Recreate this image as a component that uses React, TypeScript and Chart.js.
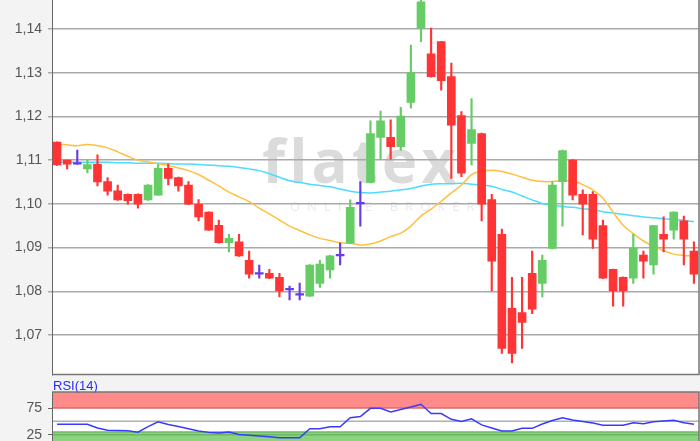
import React, { useEffect, useRef } from 'react';
import { Chart, registerables } from 'chart.js';

Chart.register(...registerables);

// ---- price data (OHLC) ----
const open = [
  1.1141, 1.1100, 1.1091, 1.1080, 1.1091, 1.1051, 1.1030, 1.1022, 1.1022, 1.1009,
  1.1020, 1.1081, 1.1060, 1.1043, 1.0999, 1.0981, 1.0951, 1.0911, 1.0913, 1.0871,
  1.0839, 1.0841, 1.0832, 1.0803, 1.0791, 1.0789, 1.0818, 1.0849, 1.0881, 1.0910,
  1.1000, 1.1049, 1.1152, 1.1152, 1.1131, 1.1232, 1.1402, 1.1343, 1.1371, 1.1291,
  1.1202, 1.1138, 1.1161, 1.1010, 1.0930, 1.0761, 1.0751, 1.0841, 1.0818, 1.0898,
  1.1051, 1.1100, 1.1022, 1.1022, 1.0950, 1.0850, 1.0832, 1.0830, 1.0883, 1.0860,
  1.0930, 1.0940, 1.0961, 1.0892,
];
const high = [
  1.1142, 1.1100, 1.1123, 1.1100, 1.1112, 1.1060, 1.1043, 1.1023, 1.1023, 1.1044,
  1.1091, 1.1091, 1.1061, 1.1051, 1.1010, 1.0982, 1.0963, 1.0930, 1.0930, 1.0892,
  1.0860, 1.0850, 1.0841, 1.0812, 1.0819, 1.0861, 1.0871, 1.0882, 1.0910, 1.1009,
  1.1051, 1.1190, 1.1212, 1.1192, 1.1221, 1.1363, 1.1490, 1.1402, 1.1372, 1.1322,
  1.1211, 1.1241, 1.1162, 1.1022, 1.0942, 1.0832, 1.0832, 1.0892, 1.0883, 1.1051,
  1.1123, 1.1101, 1.1032, 1.1028, 1.0963, 1.0851, 1.0833, 1.0930, 1.0892, 1.0951,
  1.0970, 1.0982, 1.0972, 1.0913,
];
const low = [
  1.1088, 1.1080, 1.1090, 1.1071, 1.1041, 1.1020, 1.1008, 1.0999, 1.0990, 1.1008,
  1.1019, 1.1043, 1.1029, 1.0998, 1.0961, 1.0939, 1.0910, 1.0890, 1.0880, 1.0830,
  1.0830, 1.0829, 1.0787, 1.0780, 1.0780, 1.0788, 1.0809, 1.0830, 1.0860, 1.0909,
  1.0949, 1.1048, 1.1102, 1.1102, 1.1122, 1.1219, 1.1371, 1.1290, 1.1260, 1.1058,
  1.1062, 1.1089, 1.0961, 1.0801, 1.0658, 1.0636, 1.0669, 1.0749, 1.0787, 1.0897,
  1.0949, 1.1009, 1.0929, 1.0898, 1.0829, 1.0766, 1.0766, 1.0818, 1.0830, 1.0839,
  1.0890, 1.0919, 1.0860, 1.0818,
];
const close = [
  1.1089, 1.1091, 1.1091, 1.1090, 1.1050, 1.1029, 1.1009, 1.1007, 1.0999, 1.1043,
  1.1081, 1.1058, 1.1041, 1.0999, 1.0970, 1.0940, 1.0911, 1.0921, 1.0881, 1.0839,
  1.0839, 1.0830, 1.0801, 1.0803, 1.0791, 1.0860, 1.0862, 1.0881, 1.0881, 1.0992,
  1.1000, 1.1161, 1.1190, 1.1131, 1.1201, 1.1300, 1.1462, 1.1291, 1.1282, 1.1180,
  1.1070, 1.1170, 1.0999, 1.0869, 1.0669, 1.0658, 1.0729, 1.0759, 1.0871, 1.1043,
  1.1122, 1.1020, 1.0999, 1.0919, 1.0830, 1.0801, 1.0801, 1.0898, 1.0869, 1.0950,
  1.0919, 1.0981, 1.0919, 1.0839,
];

// ---- moving averages ----
const maFast = [
  1.1137, 1.1135, 1.1133, 1.1136, 1.1133, 1.1128, 1.1119, 1.1109, 1.1100, 1.1096,
  1.1092, 1.1088, 1.1082, 1.1076, 1.1067, 1.1054, 1.1041, 1.1027, 1.1016, 1.1005,
  1.0990, 1.0977, 1.0963, 1.0949, 1.0939, 1.0929, 1.0921, 1.0916, 1.0911, 1.0910,
  1.0906, 1.0908, 1.0915, 1.0925, 1.0933, 1.0949, 1.0972, 1.0988, 1.1006, 1.1025,
  1.1043, 1.1067, 1.1075, 1.1077, 1.1074, 1.1068, 1.1061, 1.1054, 1.1051, 1.1051,
  1.1053, 1.1052, 1.1044, 1.1032, 1.1013, 1.0981, 1.0951, 1.0932, 1.0915, 1.0903,
  1.0893, 1.0885, 1.0882, 1.0881,
];
const maSlow = [
  1.1095, 1.1095, 1.1095, 1.1095, 1.1095, 1.1095, 1.1094, 1.1094, 1.1093, 1.1093,
  1.1093, 1.1092, 1.1091, 1.1091, 1.1090, 1.1089, 1.1087, 1.1086, 1.1083, 1.1080,
  1.1076, 1.1069, 1.1061, 1.1053, 1.1049, 1.1045, 1.1042, 1.1039, 1.1034, 1.1029,
  1.1026, 1.1025, 1.1027, 1.1029, 1.1032, 1.1035, 1.1041, 1.1045, 1.1046, 1.1046,
  1.1047, 1.1045, 1.1043, 1.1040, 1.1033, 1.1027, 1.1018, 1.1009, 1.1001, 1.0997,
  1.0994, 1.0992, 1.0989, 1.0986, 1.0982, 1.0979, 1.0976, 1.0973, 1.0970, 1.0968,
  1.0966, 1.0964, 1.0962, 1.0959,
];

// ---- RSI(14) ----
const rsi = [
  44.4, 44.4, 44.4, 44.4, 37.4, 33.1, 32.7, 32.3, 29.5, 40.2,
  49.2, 44.0, 40.2, 36.1, 31.8, 29.3, 28.0, 29.9, 25.2, 23.7,
  22.4, 20.9, 19.2, 19.2, 19.2, 36.1, 36.1, 39.8, 39.8, 56.8,
  59.0, 74.4, 74.4, 67.5, 72.2, 76.9, 82.0, 64.7, 64.7, 53.8,
  49.6, 54.7, 43.4, 37.4, 31.8, 31.8, 36.8, 36.8, 44.9, 51.5,
  56.8, 52.4, 49.6, 46.8, 42.7, 42.5, 42.5, 47.4, 45.3, 49.2,
  50.6, 51.9, 47.4, 44.5,
];

// ---- axes ----
const priceTicks = [1.07, 1.08, 1.09, 1.10, 1.11, 1.12, 1.13, 1.14];
const priceMin = 1.06096;
const priceMax = 1.14663;
const rsiTicks = [25, 75];
const rsiMin = 0;
const rsiMax = 105;
const rsiOverbought = 75;
const rsiOversold = 30;
const rsiMid = 50;
const rsiLowLine = 25;

const labels = open.map((_, i) => String(i + 1));

const UP = '#66cc66';
const DOWN = '#ff3535';
const DOJI = '#6a3ce8';
const candleColor = (i: number) =>
  close[i] > open[i] ? UP : close[i] < open[i] ? DOWN : DOJI;

const FONT = 'Liberation Sans';

export default function App() {
  const mainRef = useRef<HTMLCanvasElement>(null);
  const rsiRef = useRef<HTMLCanvasElement>(null);

  useEffect(() => {
    const bgPlugin = {
      id: 'mainBg',
      beforeDraw(chart: any) {
        const { ctx, chartArea: a } = chart;
        ctx.save();
        ctx.fillStyle = '#ffffff';
        ctx.fillRect(a.left, a.top, a.right - a.left, a.bottom - a.top);
        // watermark
        ctx.fillStyle = 'rgba(0,0,0,0.14)';
        ctx.font = `bold 60px "Open Sans"`;
        (ctx as any).letterSpacing = '4px';
        ctx.textBaseline = 'alphabetic';
        ctx.textAlign = 'left';
        ctx.fillText('flatex', 262, 183);
        ctx.font = `13px "Open Sans"`;
        (ctx as any).letterSpacing = '7px';
        ctx.fillStyle = 'rgba(0,0,0,0.09)';
        ctx.fillText('ONLINE BROKER', 290, 211);
        (ctx as any).letterSpacing = '0px';
        ctx.restore();
      },
      afterDraw(chart: any) {
        const { ctx, chartArea: a } = chart;
        ctx.save();
        ctx.strokeStyle = '#777777';
        ctx.lineWidth = 1.5;
        ctx.beginPath();
        ctx.moveTo(a.left, a.bottom);
        ctx.lineTo(a.right, a.bottom);
        ctx.lineTo(a.right, a.top);
        ctx.stroke();
        ctx.restore();
      },
    };

    const yAfterFit = (s: any) => {
      s.width = 52;
      s.paddingTop = 0;
      s.paddingBottom = 0;
    };

    const main = new Chart(mainRef.current!, {
      type: 'bar',
      data: {
        labels,
        datasets: [
          {
            type: 'bar',
            label: 'body',
            data: open.map((o, i) => [o, close[i]]) as any,
            backgroundColor: (c: any) => candleColor(c.dataIndex),
            barThickness: 8,
            minBarLength: 1.6,
            grouped: false,
            order: 0,
          } as any,
          {
            type: 'bar',
            label: 'wick',
            data: low.map((l, i) => [l, high[i]]) as any,
            backgroundColor: (c: any) => candleColor(c.dataIndex),
            barThickness: 1.5,
            grouped: false,
            order: 1,
          } as any,
          {
            type: 'line',
            label: 'MA fast',
            data: maFast,
            borderColor: '#ffc040',
            borderWidth: 1.5,
            pointRadius: 0,
            tension: 0.35,
            order: 2,
          } as any,
          {
            type: 'line',
            label: 'MA slow',
            data: maSlow,
            borderColor: '#4cdcff',
            borderWidth: 1.5,
            pointRadius: 0,
            tension: 0.35,
            order: 3,
          } as any,
        ],
      },
      options: {
        animation: false,
        responsive: false,
        maintainAspectRatio: false,
        layout: { padding: { top: 0, right: 1, bottom: 1.5, left: 0 } },
        plugins: { legend: { display: false }, tooltip: { enabled: false } },
        scales: {
          x: { type: 'category', offset: true, display: false },
          y: {
            type: 'linear',
            position: 'left',
            min: priceMin,
            max: priceMax,
            afterBuildTicks: (s: any) => {
              s.ticks = priceTicks.map((v) => ({ value: v }));
            },
            afterFit: yAfterFit,
            ticks: {
              callback: (v: any) => Number(v).toFixed(2).replace('.', ','),
              color: '#555555',
              font: { family: FONT, size: 14 },
              padding: 6,
            },
            grid: { color: '#aaaaaa', lineWidth: 1.5, tickLength: 4 },
            border: { display: true, color: '#666666', width: 1 },
          },
        },
      } as any,
      plugins: [bgPlugin],
    });

    const rsiPlugin = {
      id: 'rsiBg',
      beforeDraw(chart: any) {
        const { ctx, chartArea: a } = chart;
        const y = chart.scales.y;
        const w = a.right - a.left;
        ctx.save();
        ctx.fillStyle = '#ffffff';
        ctx.fillRect(a.left, a.top, w, a.bottom - a.top);
        const yTop = y.getPixelForValue(rsiMax);
        const yOb = y.getPixelForValue(rsiOverbought);
        ctx.fillStyle = '#ff8a8a';
        ctx.fillRect(a.left, yTop, w, yOb - yTop);
        const yOs = y.getPixelForValue(rsiOversold);
        const yBot = y.getPixelForValue(rsiMin);
        ctx.fillStyle = '#8ad47f';
        ctx.fillRect(a.left, yOs, w, yBot - yOs);
        const hline = (v: number, color: string, lw: number) => {
          const p = y.getPixelForValue(v);
          ctx.strokeStyle = color;
          ctx.lineWidth = lw;
          ctx.beginPath();
          ctx.moveTo(a.left, p);
          ctx.lineTo(a.right, p);
          ctx.stroke();
        };
        hline(rsiOverbought, '#d86a6a', 1.5);
        hline(rsiMid, '#b0b0b0', 1.5);
        hline(rsiOversold, '#6cb862', 1.5);
        hline(rsiLowLine, '#6cb862', 1.5);
        ctx.fillStyle = '#2a2aff';
        ctx.font = `13px "${FONT}"`;
        ctx.textAlign = 'left';
        ctx.textBaseline = 'alphabetic';
        ctx.fillText('RSI(14)', a.left + 1, a.top - 2.5);
        ctx.restore();
      },
      afterDraw(chart: any) {
        const { ctx, chartArea: a } = chart;
        ctx.save();
        ctx.strokeStyle = '#777777';
        ctx.lineWidth = 1.5;
        ctx.beginPath();
        ctx.moveTo(a.left, a.top);
        ctx.lineTo(a.right, a.top);
        ctx.lineTo(a.right, a.bottom);
        ctx.stroke();
        ctx.restore();
      },
    };

    const rsiChart = new Chart(rsiRef.current!, {
      type: 'line',
      data: {
        labels,
        datasets: [
          {
            label: 'RSI(14)',
            data: rsi,
            borderColor: '#3a3aff',
            borderWidth: 1.5,
            pointRadius: 0,
            tension: 0,
          },
        ],
      },
      options: {
        animation: false,
        responsive: false,
        maintainAspectRatio: false,
        layout: { padding: { top: 16, right: 1, bottom: 0, left: 0 } },
        plugins: { legend: { display: false }, tooltip: { enabled: false } },
        scales: {
          x: { type: 'category', offset: true, display: false },
          y: {
            type: 'linear',
            position: 'left',
            min: rsiMin,
            max: rsiMax,
            afterBuildTicks: (s: any) => {
              s.ticks = rsiTicks.map((v) => ({ value: v }));
            },
            afterFit: yAfterFit,
            ticks: {
              color: '#555555',
              font: { family: FONT, size: 14 },
              padding: 6,
            },
            grid: { drawOnChartArea: false, color: '#666666', tickLength: 4 },
            border: { display: true, color: '#666666', width: 1 },
          },
        },
      } as any,
      plugins: [rsiPlugin],
    });

    return () => {
      main.destroy();
      rsiChart.destroy();
    };
  }, []);

  return (
    <div
      style={{
        position: 'absolute',
        left: 0,
        top: 0,
        width: 700,
        height: 441,
        overflow: 'hidden',
        background: '#f3f3f3',
      }}
    >
      <canvas
        ref={mainRef}
        width={700}
        height={376}
        style={{ position: 'absolute', left: 0, top: 0, width: 700, height: 376 }}
      />
      <canvas
        ref={rsiRef}
        width={700}
        height={72}
        style={{ position: 'absolute', left: 0, top: 376, width: 700, height: 72 }}
      />
    </div>
  );
}
